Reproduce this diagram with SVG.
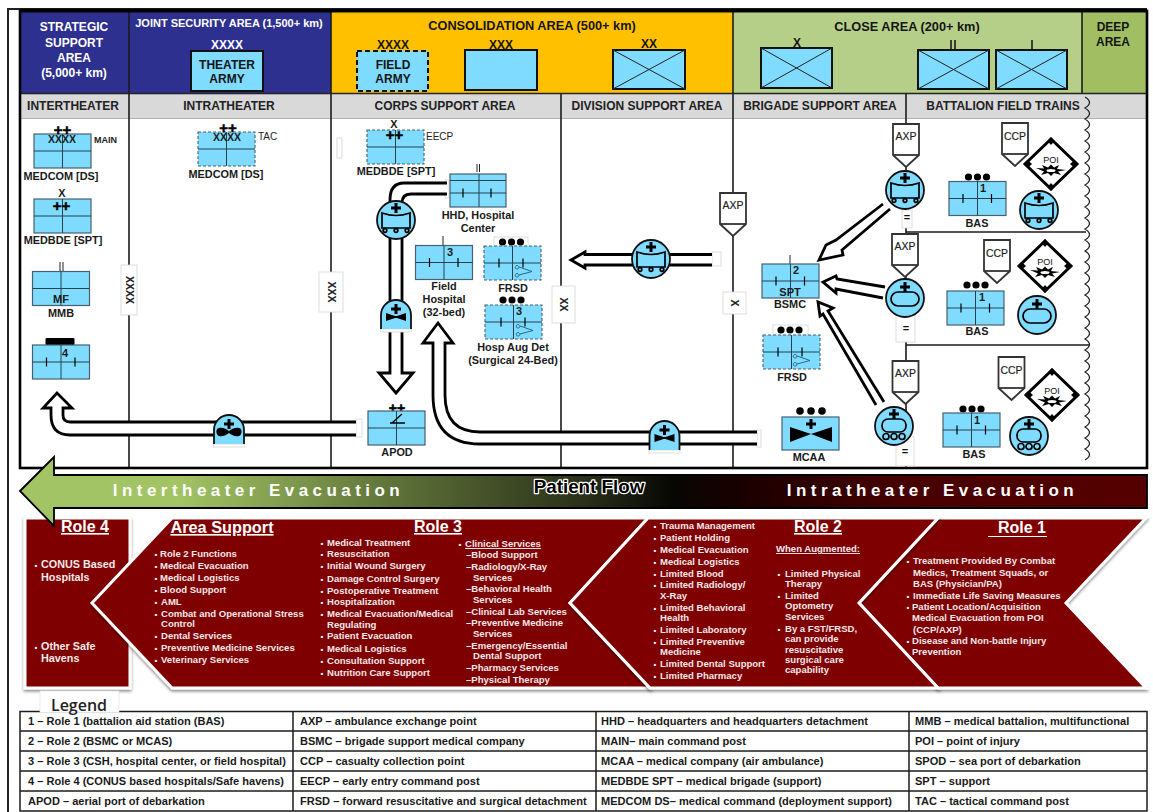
<svg xmlns="http://www.w3.org/2000/svg" width="1153" height="812" viewBox="0 0 1153 812">
<style>
text{font-family:"Liberation Sans",Arial,sans-serif;fill:#111;text-anchor:middle}
.b{font-weight:700}
.hw{font-weight:700;font-size:12px;fill:#fff}
.hd{font-weight:700;font-size:12px;fill:#151515}
.hl{font-weight:700;font-size:12.750px;fill:#151515}
.gh{font-weight:700;font-size:12px;fill:#222}
.lb{font-weight:700;font-size:10.900px;fill:#1a1a1a}
.sm{font-size:10px;fill:#222}
.ax{font-size:10.400px;fill:#222;stroke:#222;stroke-width:.2}
.l{text-anchor:start}
.pp{font-weight:700;font-size:15px;fill:#000;stroke:#000;stroke-width:.5}
.role{font-weight:700;font-size:16px;fill:#fff;text-decoration:underline}
.m{font-weight:700;font-size:9.550px;fill:#f6e9e9;text-anchor:start}
.mu{text-decoration:underline}
.dot{font-size:8px;fill:#fff;text-anchor:middle;font-weight:700}
.leg{font-weight:700;font-size:11.050px;fill:#1a1a1a;text-anchor:start}
.ev{font-size:17px;font-weight:700;fill:#fff;letter-spacing:4.450px}
.bx{fill:#7fdbff;stroke:#47606e;stroke-width:1.2}
.bxd{fill:#7fdbff;stroke:#47606e;stroke-width:1.1;stroke-dasharray:3 2}
.grid{fill:none;stroke:#25424f;stroke-width:1}
.tk{fill:none;stroke:#000;stroke-width:1.2}
.hbx{fill:#7fdbff;stroke:#111;stroke-width:2}
.hbxd{fill:#7fdbff;stroke:#111;stroke-width:2;stroke-dasharray:5 3}
.thin{fill:none;stroke:#222;stroke-width:1}
.ln{fill:none;stroke:#1c1c1c;stroke-width:1.6}
.arr{fill:#fff;stroke:#000;stroke-width:2.8;stroke-linejoin:miter}
.tab{fill:#fff;stroke:#d4d4d4;stroke-width:.8}
.circ{fill:#7fdbff;stroke:#111;stroke-width:1.8}
.sym{fill:none;stroke:#000;stroke-width:1.7}
.cr{fill:none;stroke:#000;stroke-width:3}
.ch{fill:#7f0000;stroke:#fff;stroke-width:3;stroke-linejoin:miter;filter:url(#sh)}
.axp{fill:#fff;stroke:#333;stroke-width:1.8}
</style>
<defs>
<filter id="sh" x="-5%" y="-5%" width="110%" height="112%"><feDropShadow dx="0" dy="2" stdDeviation="1.5" flood-color="#000" flood-opacity=".45"/></filter>
<linearGradient id="evac" gradientUnits="userSpaceOnUse" x1="20" y1="0" x2="1147" y2="0">
<stop offset="0" stop-color="#a3c464"/><stop offset=".14" stop-color="#a3c464"/><stop offset=".33" stop-color="#5f7339"/><stop offset=".5" stop-color="#2a3019"/><stop offset=".58" stop-color="#060604"/><stop offset=".64" stop-color="#1a0000"/><stop offset=".78" stop-color="#470000"/><stop offset="1" stop-color="#560000"/>
</linearGradient>
<g id="unit"><rect width="57" height="34" class="bx"/><path d="M0 17H57M28.5 0V34" class="grid"/></g>
<g id="unitd"><rect width="57" height="34" class="bxd"/><path d="M0 17H57M28.5 0V34" class="grid"/></g>
<path id="ticks" d="M14 12.5V21.5M42.5 12.5V21.5" class="tk"/>
<path id="sci" d="M35 21L48 25.5L35 29M33 19.5a1.8 1.8 0 1 0 .1 0M33 27.5a1.8 1.8 0 1 0 .1 0" fill="none" stroke="#1f5f7a" stroke-width=".9"/>
<g id="dots"><circle cx="-9" r="3.6"/><circle r="3.6"/><circle cx="9" r="3.6"/></g>
<path id="cross" d="M-5 0H5M0 -5V5" class="cr"/>
<g id="wheel"><circle r="19" class="circ"/><use href="#cross" y="-12"/><path d="M-14 -7Q0 -2 14 -7V8H-14Z" class="sym"/><g class="sym"><circle cx="-11" cy="10.5" r="1.8"/><circle cy="10.5" r="1.8"/><circle cx="11" cy="10.5" r="1.8"/></g></g>
<g id="oval"><circle r="19" class="circ"/><use href="#cross" y="-11"/><rect x="-14" y="-6" width="28" height="14" rx="7" class="sym"/></g>
<g id="track"><circle r="19" class="circ"/><use href="#cross" y="-12"/><rect x="-12" y="-7" width="24" height="13" rx="6" class="sym"/><g class="sym" stroke-width="1.2"><circle cx="-8" cy="10.5" r="3"/><circle cy="10.5" r="3"/><circle cx="8" cy="10.5" r="3"/></g></g>
<g id="dome"><rect x="-15.5" y="0" width="31" height="3" class="tab"/><path d="M-15 0V-14a15 15 0 0 1 30 0V0Z" fill="#7fdbff"/><path d="M-15 0V-14a15 15 0 0 1 30 0V0" fill="none" stroke="#111" stroke-width="1.8"/><use href="#cross" y="-20"/></g>
<path id="bow" d="M-10 -16L-1 -13H1L10 -16V-8L1 -11H-1L-10 -8Z"/>
<g id="axp"><path d="M-13 -32H13V-1L0 11L-13 -1Z" class="axp"/><path d="M-13 -1H13" class="axp"/></g>
<g id="poi"><path d="M0 -25L26 0L0 25L-26 0Z" fill="#fff" stroke="#000" stroke-width="3"/><path d="M0 -27l3.5 4l-3.5 4l-3.5-4ZM0 27l3.5-4l-3.5-4l-3.5 4ZM-27 0l4 -3.5l4 3.5l-4 3.5ZM27 0l-4 -3.5l-4 3.5l4 3.5Z"/><path d="M-15 4L-7 4.500L-9 1L-3 3.500L0 .5L3 3.500L8 1L6 5L15 6L7 7.500L10 11L3 9L0 12L-3 9L-10 11L-7 7.500Z"/><ellipse cy="6.500" rx="4.500" ry="1.500" fill="#fff"/><text y="-1" font-size="9" fill="#222">POI</text></g>
</defs>

<rect width="1153" height="812" fill="#fff"/>
<g id="frame">
<path d="M8 812V9H1147" fill="none" stroke="#222" stroke-width="2"/>
<rect x="20" y="12" width="110" height="81" fill="#2e3090"/>
<rect x="130" y="12" width="201" height="81" fill="#2e3090"/>
<rect x="331" y="12" width="402" height="81" fill="#ffc000"/>
<rect x="733" y="12" width="349" height="81" fill="#b5cf88"/>
<rect x="1082" y="12" width="65" height="81" fill="#a1bf62"/>
<rect x="20" y="94" width="1127" height="24" fill="#d9d9d9"/>
<path d="M20 118.500H1147" stroke="#b0b0b0" stroke-width="1"/>
<path d="M129 12V468M331 12V468M561 94V468M733 12V468M1082 12V93M906 94V468" class="ln"/>
<path d="M20 93.500H1147" stroke="#222" stroke-width="1.600"/>
<path d="M906 232H1086M906 345H1089" class="ln"/>
<path d="M1085 97q9 5.500 0 11q9 5.500 0 11q9 5.500 0 11q9 5.500 0 11q9 5.500 0 11q9 5.500 0 11q9 5.500 0 11q9 5.500 0 11q9 5.500 0 11q9 5.500 0 11q9 5.500 0 11q9 5.500 0 11q9 5.500 0 11q9 5.500 0 11q9 5.500 0 11q9 5.500 0 11q9 5.500 0 11q9 5.500 0 11q9 5.500 0 11q9 5.500 0 11q9 5.500 0 11q9 5.500 0 11q9 5.500 0 11q9 5.500 0 11q9 5.500 0 11q9 5.500 0 11q9 5.500 0 11q9 5.500 0 11q9 5.500 0 11q9 5.500 0 11q9 5.500 0 11q9 5.500 0 11q9 5.500 0 11" fill="none" stroke="#222" stroke-width="1.300"/>
<path d="M20 10.500H1147" stroke="#000" stroke-width="3.500"/>
<rect x="20" y="11" width="1127" height="457" fill="none" stroke="#000" stroke-width="2.600"/>
<rect x="337" y="138" width="5" height="20" class="tab"/>
</g>
<g id="headers">
<text class="hw"><tspan x="74" y="31">STRATEGIC</tspan><tspan x="74" y="47">SUPPORT</tspan><tspan x="74" y="62">AREA</tspan><tspan x="74" y="77">(5,000+ km)</tspan></text>
<text class="hw" x="229" y="27" style="font-size:11px">JOINT SECURITY AREA (1,500+ km)</text>
<text class="hw" x="227" y="49">XXXX</text>
<text class="hl" x="532" y="30">CONSOLIDATION AREA (500+ km)</text>
<text class="hl" x="907" y="31">CLOSE AREA (200+ km)</text>
<text class="hd" x="1113" y="31">DEEP</text><text class="hd" x="1113" y="46">AREA</text>
<text class="gh" x="73" y="110">INTERTHEATER</text>
<text class="gh" x="229" y="110">INTRATHEATER</text>
<text class="gh" x="445" y="110">CORPS SUPPORT AREA</text>
<text class="gh" x="647" y="110">DIVISION SUPPORT AREA</text>
<text class="gh" x="820" y="110">BRIGADE SUPPORT AREA</text>
<text class="gh" x="1003" y="110">BATTALION FIELD TRAINS</text>
</g>
<g id="theater-army"><rect x="191" y="51" width="72" height="40" class="hbx"/><text class="hd"><tspan x="227" y="69">THEATER</tspan><tspan x="227" y="83">ARMY</tspan></text></g>
<g id="field-army"><text class="hd" x="393" y="49">XXXX</text><rect x="357" y="51" width="71" height="40" class="hbxd"/><text class="hd"><tspan x="393" y="69">FIELD</tspan><tspan x="393" y="83">ARMY</tspan></text></g>
<g id="corps"><text class="hd" x="501" y="49">XXX</text><rect x="465" y="50" width="72" height="40" class="hbx"/></g>
<g id="division"><text class="hd" x="649" y="48">XX</text><rect x="613" y="50" width="72" height="39" class="hbx"/><path d="M613 50L685 89M685 50L613 89" class="thin"/></g>
<g id="brigade"><text class="hd" x="797" y="47">X</text><rect x="761" y="48" width="71" height="40" class="hbx"/><path d="M761 48L832 88M832 48L761 88" class="thin"/></g>
<g id="battalion"><path d="M951 40V49M955 40V49" class="ln"/><rect x="918" y="50" width="71" height="39" class="hbx"/><path d="M918 50L989 89M989 50L918 89" class="thin"/></g>
<g id="company"><path d="M1032 40V49" class="ln"/><rect x="996" y="50" width="71" height="39" class="hbx"/><path d="M996 50L1067 89M1067 50L996 89" class="thin"/></g>

<g id="boundaries">
<rect x="121" y="265" width="16" height="50" class="tab"/><text class="sm" transform="translate(125.500 290) rotate(90)" font-weight="700" style="font-size:10.500px">XXXX</text>
<rect x="319" y="272" width="24" height="40" class="tab"/><text class="sm" transform="translate(328 292) rotate(90)" font-weight="700" style="font-size:10.500px">XXX</text>
<rect x="552" y="286" width="23" height="37" class="tab"/><text class="sm" transform="translate(560 304.500) rotate(90)" font-weight="700" style="font-size:10.500px">XX</text>
<rect x="723" y="292" width="23" height="22" class="tab"/><text class="sm" transform="translate(731 303) rotate(90)" font-weight="700" style="font-size:10.500px">X</text>
<rect x="902" y="210" width="10" height="18" class="tab"/><text class="b" x="907" y="221" font-size="11">=</text>
<rect x="896" y="314" width="19" height="28" class="tab"/><text class="b" x="906" y="332" font-size="11">=</text>
<rect x="896" y="437" width="18" height="29" class="tab"/><text class="b" x="905" y="455" font-size="11">=</text>
</g>

<g id="connectors">
<rect x="356" y="419" width="6" height="18" class="tab"/>
<path class="arr" d="M356 422H70Q63 422 63 415V408H72L57 393L43 408H51V415Q51 435 70 435H356"/>
<rect x="757" y="430" width="4" height="17" class="tab"/>
<path class="arr" d="M757 432H480Q445 432 445 395V343H453L438 323L423 343H433V395Q433 444 480 444H757"/>
<rect x="445" y="180" width="4" height="18" class="tab"/>
<path class="arr" d="M447 183H404Q390 183 390 200V373H379L396 393L413 373H402V203Q402 194 411 194H447"/>
<rect x="712" y="252" width="9" height="14" class="tab"/>
<path class="arr" d="M712 254.500H585V252L571 260L585 268V265H712"/>
<path class="arr" d="M883 204L836 240L826 245L819 260L843 255L842 250L890 209"/>
<path class="arr" d="M885 287L837 279L836 276L823 282L836 293L836 289L883 298"/>
<path class="arr" d="M884 402L828 311L833 308L818 302L820 316L823 314L876 405"/>
</g>

<g id="medcom-main"><use href="#unit" x="34" y="134"/><text class="pp" x="62.500" y="134.500">++</text><text class="lb" x="62" y="143" style="font-size:10.500px">XXXX</text><text class="sm b" x="94" y="143" style="text-anchor:start;font-size:9px">MAIN</text><text class="lb" x="61" y="180">MEDCOM [DS]</text></g>
<g id="medcom-tac"><use href="#unitd" x="198" y="132"/><text class="pp" x="228" y="132.500">++</text><text class="lb" x="227" y="141" style="font-size:10.500px">XXXX</text><text class="sm l" x="258" y="140">TAC</text><text class="lb" x="226" y="178">MEDCOM [DS]</text></g>
<g id="medbde-1"><use href="#unit" x="34" y="199"/><text class="lb" x="62" y="197">X</text><text class="pp" x="61.500" y="211">++</text><text class="lb" x="63" y="244">MEDBDE [SPT]</text></g>
<g id="mmb"><use href="#unit" x="32.500" y="271.500"/><path d="M60 262V271M63 262V271" class="thin"/><text class="lb" x="61" y="303" style="font-size:11px">MF</text><text class="lb" x="61" y="317">MMB</text></g>
<g id="role4"><rect x="45.500" y="338" width="29" height="7" rx="1"/><use href="#unit" x="32.500" y="345"/><use href="#ticks" x="32.500" y="345"/><text class="lb" x="65" y="357" style="font-size:11px">4</text></g>
<g id="medbde-eecp"><use href="#unitd" x="367" y="130"/><text class="lb" x="394" y="128">X</text><text class="pp" x="394.500" y="140">++</text><text class="sm l" x="426" y="140">EECP</text><text class="lb" x="396" y="175">MEDBDE [SPT]</text></g>
<g id="hhd"><path d="M477 164V172M479.500 164V172" class="thin"/><rect x="450" y="174" width="56" height="33" class="bx"/><path d="M450 180.500H506M450 193H506M479 174V207" class="grid"/><path d="M463 188.500V197.500M491 188.500V197.500" class="tk"/><text class="lb"><tspan x="478" y="219">HHD, Hospital</tspan><tspan x="478" y="232">Center</tspan></text></g>
<g id="field-hospital"><path d="M443 236V245" class="thin"/><use href="#unit" x="415.500" y="245.500"/><use href="#ticks" x="415.500" y="245.500"/><text class="lb" x="450" y="256" style="font-size:11px">3</text><text class="lb"><tspan x="444" y="290">Field</tspan><tspan x="444" y="303">Hospital</tspan><tspan x="444" y="316">(32-bed)</tspan></text></g>
<g id="frsd-1"><rect x="494" y="237" width="34" height="9" class="tab"/><use href="#dots" x="511.500" y="242"/><use href="#unitd" x="484" y="246"/><path d="M499 258.500V267.500M523 258.500V267.500" class="tk"/><use href="#sci" x="484" y="246"/><text class="lb" x="513" y="292">FRSD</text></g>
<g id="hosp-aug"><use href="#dots" x="512" y="300"/><use href="#unitd" x="485" y="305"/><path d="M501 317.500V326.500M525 317.500V326.500" class="tk"/><use href="#sci" x="485" y="305"/><text class="lb" x="519" y="315" style="font-size:11px">3</text><text class="lb"><tspan x="513" y="351">Hosp Aug Det</tspan><tspan x="513" y="364">(Surgical 24-Bed)</tspan></text></g>
<g id="apod"><text class="pp" x="397" y="413" style="font-size:14px">++</text><use href="#unit" x="368" y="411"/><path d="M390 423H405M402 414L392 423" fill="none" stroke="#000" stroke-width="1.300"/><text class="lb" x="397" y="456">APOD</text></g>
<g id="axp-div"><use href="#axp" x="733" y="225"/><text class="ax" x="733" y="209">AXP</text></g>
<g id="axp-1"><use href="#axp" x="906" y="156"/><text class="ax" x="906" y="140">AXP</text></g>
<g id="axp-2"><use href="#axp" x="905" y="266"/><text class="ax" x="905" y="250">AXP</text></g>
<g id="axp-3"><use href="#axp" x="905.500" y="393"/><text class="ax" x="905.500" y="377">AXP</text></g>
<g id="ccp-1"><use href="#axp" x="1015" y="155"/><text class="ax" x="1015" y="140">CCP</text></g>
<g id="ccp-2"><use href="#axp" x="997" y="272"/><text class="ax" x="997" y="257">CCP</text></g>
<g id="ccp-3"><use href="#axp" x="1011.500" y="389"/><text class="ax" x="1011.500" y="374">CCP</text></g>
<g id="poi-1"><use href="#poi" x="1051" y="164"/></g>
<g id="poi-2"><use href="#poi" x="1045" y="266"/></g>
<g id="poi-3"><use href="#poi" x="1052" y="395"/></g>
<g id="amb-corps"><use href="#wheel" x="396" y="220"/></g>
<g id="amb-div"><use href="#wheel" x="651" y="259"/></g>
<g id="amb-bde"><use href="#wheel" x="905" y="190"/></g>
<g id="amb-bn1"><use href="#wheel" x="1039" y="210"/></g>
<g id="oval-bde"><use href="#oval" x="905" y="298"/></g>
<g id="oval-bn2"><use href="#oval" x="1037" y="315"/></g>
<g id="track-bde"><use href="#track" x="894" y="426"/></g>
<g id="track-bn3"><use href="#track" x="1029" y="436"/></g>
<g id="air-inter"><use href="#dome" x="229" y="444"/><path transform="translate(229 444)" d="M-10 -16C-6 -17 -3 -15 0 -13C3 -15 6 -17 10 -16C14 -15 13 -9 10 -8C6 -7 3 -9 0 -11C-3 -9 -6 -7 -10 -8C-13 -9 -14 -15 -10 -16Z"/></g>
<g id="air-corps"><use href="#dome" x="396" y="329"/><use href="#bow" x="396" y="329"/></g>
<g id="air-intra"><use href="#dome" x="664.500" y="450"/><use href="#bow" x="664.500" y="450"/></g>
<g id="bsmc"><path d="M790 255V264" class="thin"/><use href="#unit" x="762" y="264"/><use href="#ticks" x="762" y="264"/><text class="lb" x="796" y="274" style="font-size:11px">2</text><text class="lb" x="790" y="296" style="font-size:11px">SPT</text><text class="lb" x="790" y="308">BSMC</text></g>
<g id="frsd-2"><rect x="773" y="325" width="35" height="10" class="tab"/><use href="#dots" x="790" y="330"/><use href="#unitd" x="763" y="335"/><path d="M778 347.500V356.500M802 347.500V356.500" class="tk"/><use href="#sci" x="762" y="335"/><text class="lb" x="792" y="381">FRSD</text></g>
<g id="mcaa"><g transform="translate(811 411)"><circle cx="-11" r="3.800"/><circle r="3.800"/><circle cx="11" r="3.800"/></g><rect x="782" y="417" width="57" height="33" class="bx"/><path d="M790 427L811 434L832 427V442L811 434L790 442Z"/><use href="#cross" x="811" y="424"/><text class="lb" x="809" y="461">MCAA</text></g>
<g id="bas-1"><use href="#dots" x="977.500" y="177"/><use href="#unit" x="949" y="181.500"/><use href="#ticks" x="949" y="181.500"/><text class="lb" x="983" y="192" style="font-size:11px">1</text><text class="lb" x="977" y="227">BAS</text></g>
<g id="bas-2"><use href="#dots" x="976" y="285"/><use href="#unit" x="947" y="291"/><use href="#ticks" x="947" y="291"/><text class="lb" x="982" y="301" style="font-size:11px">1</text><text class="lb" x="977" y="335">BAS</text></g>
<g id="bas-3"><use href="#dots" x="972" y="409"/><use href="#unit" x="943" y="413"/><use href="#ticks" x="943" y="413"/><text class="lb" x="977" y="424" style="font-size:11px">1</text><text class="lb" x="974" y="458">BAS</text></g>

<g id="role-blocks">
<rect x="25" y="518" width="105" height="170" class="ch"/>
<path d="M172 518H648L570 603L650 688H172L92 603Z" class="ch"/>
<path d="M938 518H1146L1066 603L1146 688H938L859 603Z" class="ch"/>
<path d="M648 518H938L859 603L938 688H650L570 603Z" class="ch"/>
</g>
<g id="evac-band">
<path d="M20 491L54 457V475H1147V508H54V526Z" fill="url(#evac)" stroke="#000" stroke-width="1.800"/>
<text class="ev" x="258.500" y="496">Intertheater Evacuation</text>
<text class="ev" x="932.500" y="496">Intratheater Evacuation</text>
<text x="589" y="493" style="font-size:18.800px;font-weight:700;fill:#000;stroke:#fff;stroke-width:2.500px;paint-order:stroke;stroke-linejoin:round">Patient Flow</text>
</g>

<g id="role4-text">
<text class="role" x="85" y="532">Role 4</text>
<text class="dot"><tspan x="36" y="568">•</tspan><tspan x="36" y="650">•</tspan></text>
<text class="m" style="font-size:10.800px"><tspan x="41" y="568">CONUS Based</tspan><tspan x="41" y="581">Hospitals</tspan><tspan x="41" y="650">Other Safe</tspan><tspan x="41" y="662">Havens</tspan></text>
</g>
<g id="area-support-text">
<text class="role" x="222" y="533" style="font-size:16.300px">Area Support</text>
<text class="dot"><tspan x="156" y="557">•</tspan><tspan x="156" y="569">•</tspan><tspan x="156" y="581">•</tspan><tspan x="156" y="593">•</tspan><tspan x="156" y="605">•</tspan><tspan x="156" y="617">•</tspan><tspan x="156" y="639">•</tspan><tspan x="156" y="651">•</tspan><tspan x="156" y="663">•</tspan></text>
<text class="m"><tspan x="160" y="557">Role 2 Functions</tspan><tspan x="160" y="569">Medical Evacuation</tspan><tspan x="160" y="581">Medical Logistics</tspan><tspan x="160" y="593">Blood Support</tspan><tspan x="161" y="605">AML</tspan><tspan x="161" y="617">Combat and Operational Stress</tspan><tspan x="161" y="627">Control</tspan><tspan x="161" y="639">Dental Services</tspan><tspan x="161" y="651">Preventive Medicine Services</tspan><tspan x="161" y="663">Veterinary Services</tspan></text>
</g>
<g id="role3-text">
<text class="role" x="438" y="532">Role 3</text>
<text class="dot"><tspan x="322" y="546">•</tspan><tspan x="322" y="557">•</tspan><tspan x="322" y="569">•</tspan><tspan x="322" y="582">•</tspan><tspan x="322" y="594">•</tspan><tspan x="322" y="605">•</tspan><tspan x="322" y="617">•</tspan><tspan x="322" y="639">•</tspan><tspan x="322" y="652">•</tspan><tspan x="322" y="664">•</tspan><tspan x="322" y="676">•</tspan><tspan x="460" y="547">•</tspan></text>
<text class="m"><tspan x="327" y="546">Medical Treatment</tspan><tspan x="327" y="557">Resuscitation</tspan><tspan x="327" y="569">Initial Wound Surgery</tspan><tspan x="327" y="582">Damage Control Surgery</tspan><tspan x="327" y="594">Postoperative Treatment</tspan><tspan x="327" y="605">Hospitalization</tspan><tspan x="327" y="617">Medical Evacuation/Medical</tspan><tspan x="327" y="628">Regulating</tspan><tspan x="327" y="639">Patient Evacuation</tspan><tspan x="327" y="652">Medical Logistics</tspan><tspan x="327" y="664">Consultation Support</tspan><tspan x="327" y="676">Nutrition Care Support</tspan></text>
<text class="m mu" x="465" y="547">Clinical Services</text>
<text class="m"><tspan x="466" y="558">–Blood Support</tspan><tspan x="466" y="570">–Radiology/X-Ray</tspan><tspan x="473" y="581">Services</tspan><tspan x="466" y="592">–Behavioral Health</tspan><tspan x="473" y="603">Services</tspan><tspan x="466" y="615">–Clinical Lab Services</tspan><tspan x="466" y="626">–Preventive Medicine</tspan><tspan x="473" y="637">Services</tspan><tspan x="466" y="649">–Emergency/Essential</tspan><tspan x="473" y="659">Dental Support</tspan><tspan x="466" y="671">–Pharmacy Services</tspan><tspan x="466" y="683">–Physical Therapy</tspan></text>
</g>
<g id="role2-text">
<text class="role" x="818" y="532">Role 2</text>
<text class="dot"><tspan x="655" y="529">•</tspan><tspan x="655" y="541">•</tspan><tspan x="655" y="553">•</tspan><tspan x="655" y="565">•</tspan><tspan x="655" y="577">•</tspan><tspan x="655" y="588">•</tspan><tspan x="655" y="611">•</tspan><tspan x="655" y="633">•</tspan><tspan x="655" y="645">•</tspan><tspan x="655" y="667">•</tspan><tspan x="655" y="679">•</tspan><tspan x="779" y="577">•</tspan><tspan x="779" y="599">•</tspan><tspan x="779" y="632">•</tspan></text>
<text class="m"><tspan x="660" y="529">Trauma Management</tspan><tspan x="660" y="541">Patient Holding</tspan><tspan x="660" y="553">Medical Evacuation</tspan><tspan x="660" y="565">Medical Logistics</tspan><tspan x="660" y="577">Limited Blood</tspan><tspan x="660" y="588">Limited Radiology/</tspan><tspan x="660" y="599">X-Ray</tspan><tspan x="660" y="611">Limited Behavioral</tspan><tspan x="660" y="621">Health</tspan><tspan x="660" y="633">Limited Laboratory</tspan><tspan x="660" y="645">Limited Preventive</tspan><tspan x="660" y="655">Medicine</tspan><tspan x="660" y="667">Limited Dental Support</tspan><tspan x="660" y="679">Limited Pharmacy</tspan></text>
<text class="m mu" x="776" y="552">When Augmented:</text>
<text class="m"><tspan x="785" y="577">Limited Physical</tspan><tspan x="785" y="587">Therapy</tspan><tspan x="785" y="599">Limited</tspan><tspan x="785" y="609">Optometry</tspan><tspan x="785" y="620">Services</tspan><tspan x="785" y="632">By a FST/FRSD,</tspan><tspan x="785" y="642">can provide</tspan><tspan x="785" y="653">resuscitative</tspan><tspan x="785" y="663">surgical care</tspan><tspan x="785" y="673">capability</tspan></text>
</g>
<g id="role1-text">
<path d="M988 536.500H1047" stroke="#fff" stroke-width="1.200"/>
<text class="role" x="1022" y="533" style="text-decoration:none">Role 1</text>
<text class="dot"><tspan x="908" y="564">•</tspan><tspan x="908" y="599">•</tspan><tspan x="908" y="610">•</tspan><tspan x="908" y="644">•</tspan></text>
<text class="m"><tspan x="913" y="564">Treatment Provided By Combat</tspan><tspan x="913" y="576">Medics, Treatment Squads, or</tspan><tspan x="913" y="587">BAS (Physician/PA)</tspan><tspan x="913" y="599">Immediate Life Saving  Measures</tspan><tspan x="912" y="610">Patient Location/Acquisition</tspan><tspan x="912" y="621">Medical Evacuation from POI</tspan><tspan x="913" y="633">(CCP/AXP)</tspan><tspan x="912" y="644">Disease and Non-battle Injury</tspan><tspan x="912" y="655">Prevention</tspan></text>
</g>
<g id="legend">
<path d="M20 711.500H1147V811H20ZM20 731H1147M20 751H1147M20 771H1147M20 791H1147M293 711V811M596 711V811M909 711V811" fill="none" stroke="#1c1c1c" stroke-width="1.500"/>
<path d="M8 812V690" fill="none" stroke="#222" stroke-width="2"/>
<rect x="40" y="691" width="79" height="21.500" fill="#fff" stroke="#e2e2e2" stroke-width=".7"/>
<text x="79" y="711" style="font-family:'Open Sans','Liberation Sans',sans-serif;font-size:16px;font-weight:600;fill:#222">Legend</text>
<text class="leg"><tspan x="28" y="725">1 – Role 1 (battalion aid station (BAS)</tspan><tspan x="28" y="745">2 – Role 2 (BSMC or MCAS)</tspan><tspan x="28" y="765">3 – Role 3 (CSH, hospital center, or field hospital)</tspan><tspan x="28" y="785">4 – Role 4 (CONUS based hospitals/Safe havens)</tspan><tspan x="28" y="805">APOD – aerial port of debarkation</tspan></text>
<text class="leg"><tspan x="300" y="725">AXP – ambulance exchange point</tspan><tspan x="300" y="745">BSMC – brigade support medical company</tspan><tspan x="300" y="765">CCP – casualty collection point</tspan><tspan x="300" y="785">EECP – early entry command post</tspan><tspan x="300" y="805">FRSD – forward resuscitative and surgical detachment</tspan></text>
<text class="leg"><tspan x="601" y="725">HHD – headquarters and headquarters detachment</tspan><tspan x="601" y="745">MAIN– main command post</tspan><tspan x="601" y="765">MCAA – medical company (air ambulance)</tspan><tspan x="601" y="785">MEDBDE SPT – medical brigade (support)</tspan><tspan x="601" y="805">MEDCOM DS– medical command (deployment support)</tspan></text>
<text class="leg"><tspan x="915" y="725">MMB – medical battalion, multifunctional</tspan><tspan x="915" y="745">POI – point of injury</tspan><tspan x="915" y="765">SPOD – sea port of debarkation</tspan><tspan x="915" y="785">SPT – support</tspan><tspan x="915" y="805">TAC – tactical command post</tspan></text>
</g>
</svg>
